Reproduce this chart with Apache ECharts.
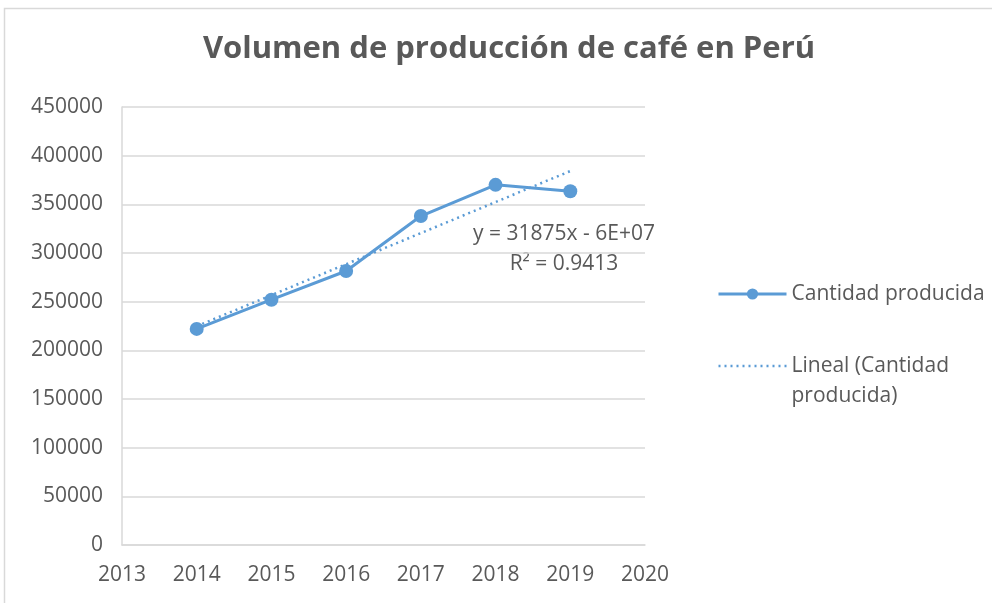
<!DOCTYPE html>
<html>
<head>
<meta charset="utf-8">
<script src="https://cdn.jsdelivr.net/npm/echarts@6/dist/echarts.min.js"></script>
<style>
  html, body { margin: 0; padding: 0; background: #fff; }
  #chart { width: 992px; height: 603px; }
</style>
</head>
<body>
<div id="chart"></div>
<script>
// datos
const years = [2014, 2015, 2016, 2017, 2018, 2019];
const produccion = [222000, 252000, 281500, 338000, 370000, 363500];
// línea de tendencia (extremos)
const trendYears = [2014, 2019];
const trendValues = [224800, 384200];
const trendText = 'y = 31875x - 6E+07\nR² = 0.9413';

const chart = echarts.init(document.getElementById('chart'));
const font = '"Open Sans", "Noto Sans", sans-serif';
const grey = '#595959';
const blue = '#5B9BD5';

const option = {
  animation: false,
  backgroundColor: '#fff',
  title: {
    text: 'Volumen de producción de café en Perú',
    left: 504,
    top: 29,
    textAlign: 'center',
    textStyle: { fontFamily: font, fontSize: 31, fontWeight: 'bold', color: grey }
  },
  grid: { left: 122, right: 347, top: 107, bottom: 58 },
  xAxis: {
    type: 'value',
    min: 2013,
    max: 2020,
    interval: 1,
    axisLine: { show: true, lineStyle: { color: '#D9D9D9', width: 1.5 } },
    axisTick: { show: false },
    splitLine: { show: false },
    axisLabel: {
      formatter: v => String(v),
      color: grey, fontFamily: font, fontSize: 21, margin: 20
    }
  },
  yAxis: {
    type: 'value',
    min: 0,
    max: 450000,
    interval: 50000,
    axisLine: { show: true, lineStyle: { color: '#D9D9D9', width: 1.5 } },
    axisTick: { show: false },
    splitLine: { lineStyle: { color: '#D9D9D9', width: 1.5 } },
    axisLabel: {
      formatter: v => String(v),
      color: grey, fontFamily: font, fontSize: 21, margin: 19
    }
  },
  legend: {
    orient: 'vertical',
    left: 712,
    top: 274,
    itemWidth: 68,
    itemHeight: 14,
    itemGap: 12,
    lineStyle: { width: 3 },
    // línea en blanco arriba para que el icono quede a la altura de la primera línea
    formatter: name => name === 'Lineal (Cantidad producida)' ? '\nLineal (Cantidad\nproducida)' : name,
    textStyle: { color: grey, fontFamily: font, fontSize: 21, lineHeight: 30 },
    data: [
      { name: 'Cantidad producida' },
      {
        name: 'Lineal (Cantidad producida)',
        itemStyle: { color: 'rgba(0,0,0,0)', borderWidth: 0 },
        lineStyle: { width: 2.5 }
      }
    ]
  },
  graphic: [
    {
      type: 'rect',
      shape: { x: 4.5, y: 8.5, width: 1000, height: 1000 },
      style: { fill: null, stroke: '#D9D9D9', lineWidth: 1.5 },
      silent: true
    },
    {
      type: 'text',
      x: 564,
      y: 219,
      style: {
        text: trendText,
        align: 'center',
        verticalAlign: 'top',
        fill: grey,
        font: '21px ' + font,
        lineHeight: 30
      }
    }
  ],
  series: [
    {
      name: 'Cantidad producida',
      type: 'line',
      data: years.map((y, i) => [y, produccion[i]]),
      symbol: 'circle',
      symbolSize: 14,
      lineStyle: { color: blue, width: 3 },
      itemStyle: { color: blue },
      z: 3
    },
    {
      name: 'Lineal (Cantidad producida)',
      type: 'line',
      data: trendYears.map((y, i) => [y, trendValues[i]]),
      symbol: 'none',
      lineStyle: { color: blue, width: 2.5, type: [2, 4] },
      itemStyle: { color: blue },
      z: 2
    }
  ]
};

chart.setOption(option);
</script>
</body>
</html>
